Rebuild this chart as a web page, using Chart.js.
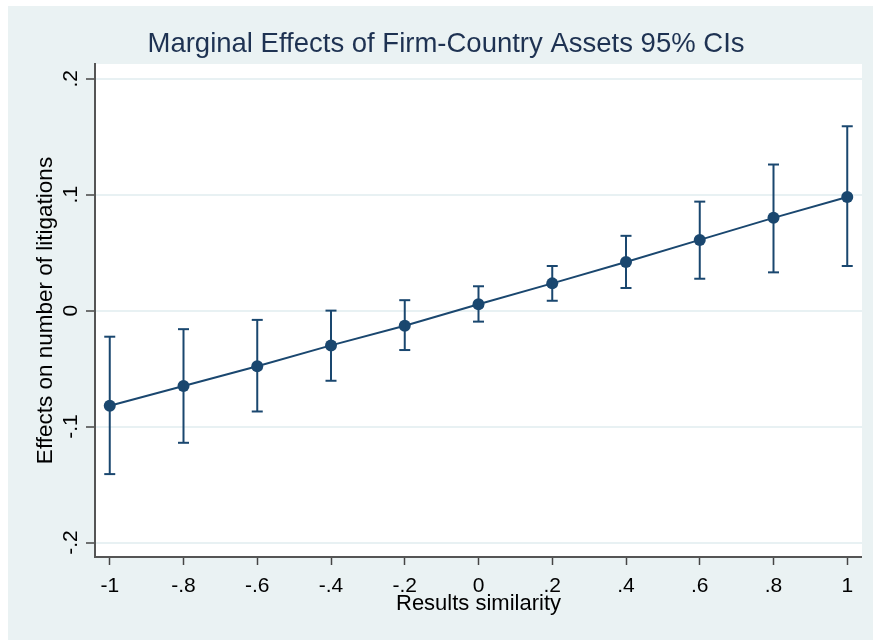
<!DOCTYPE html>
<html>
<head>
<meta charset="utf-8">
<script src="https://cdn.jsdelivr.net/npm/chart.js@4.4.1/dist/chart.umd.min.js"></script>
<style>
  html, body { margin: 0; padding: 0; background: #ffffff; }
  #frame { position: absolute; left: 8px; top: 6px; width: 865px; height: 634px; background: #eaf2f3; }
  #wrap { position: absolute; left: 22px; top: 0; width: 832px; height: 634px; }
</style>
</head>
<body>
<div id="frame"><div id="wrap"><canvas id="chart"></canvas></div></div>
<script>
// Values
const similarity = [-1, -0.8, -0.6, -0.4, -0.2, 0, 0.2, 0.4, 0.6, 0.8, 1];
const effects = [-0.082, -0.065, -0.048, -0.030, -0.013, 0.0055, 0.0235, 0.042, 0.061, 0.080, 0.098];
const ciLower = [-0.141, -0.114, -0.087, -0.0605, -0.034, -0.0095, 0.0085, 0.0195, 0.0275, 0.033, 0.0385];
const ciUpper = [-0.0225, -0.016, -0.008, 0.0, 0.009, 0.021, 0.0385, 0.0645, 0.094, 0.126, 0.159];

const xTickValues = [-1, -0.8, -0.6, -0.4, -0.2, 0, 0.2, 0.4, 0.6, 0.8, 1];
const xTickLabels = ['-1', '-.8', '-.6', '-.4', '-.2', '0', '.2', '.4', '.6', '.8', '1'];
const yTickValues = [-0.2, -0.1, 0, 0.1, 0.2];
const yTickLabels = ['-.2', '-.1', '0', '.1', '.2'];

const NAVY = '#1a476f';
const FONT = "'Liberation Sans', Arial, sans-serif";

// error bar segments: low -> high, then a gap
const ciSegments = [];
similarity.forEach((x, i) => {
  ciSegments.push({ x, y: ciLower[i] });
  ciSegments.push({ x, y: ciUpper[i] });
  ciSegments.push({ x, y: null });
});

const points = similarity.map((x, i) => ({ x, y: effects[i] }));

// white plot region
const plotBg = {
  id: 'plotBg',
  beforeDraw(chart) {
    const { ctx, chartArea: a } = chart;
    ctx.save();
    ctx.fillStyle = '#ffffff';
    ctx.fillRect(a.left, a.top, a.right - a.left, a.bottom - a.top);
    ctx.restore();
  }
};

// no extra label padding, the layout is fixed by the sizes below
const noPad = scale => {
  scale.paddingLeft = 0;
  scale.paddingRight = 0;
  scale.paddingTop = 0;
  scale.paddingBottom = 0;
};

new Chart(document.getElementById('chart'), {
  type: 'line',
  data: {
    datasets: [
      {
        label: '95% CI',
        data: ciSegments,
        borderColor: NAVY,
        borderWidth: 2,
        spanGaps: false,
        pointStyle: 'line',
        pointRadius: 5.5,
        pointBorderWidth: 2,
        pointBorderColor: NAVY,
        clip: false
      },
      {
        label: 'Effect',
        data: points,
        borderColor: NAVY,
        borderWidth: 2,
        tension: 0,
        pointRadius: 6,
        pointBackgroundColor: NAVY,
        pointBorderWidth: 0
      }
    ]
  },
  options: {
    responsive: true,
    maintainAspectRatio: false,
    animation: false,
    layout: { padding: 0, autoPadding: false },
    plugins: {
      legend: { display: false },
      tooltip: { enabled: false },
      title: {
        display: true,
        text: 'Marginal Effects of Firm-Country Assets 95% CIs',
        color: '#1e3252',
        font: { family: FONT, size: 27.5, weight: 'normal', lineHeight: 1 },
        padding: { top: 25, bottom: 5.5 }
      }
    },
    scales: {
      x: {
        type: 'linear',
        min: -1.04,
        max: 1.04,
        afterBuildTicks(scale) { scale.ticks = xTickValues.map(v => ({ value: v })); },
        afterFit(scale) { scale.height = 83; noPad(scale); },
        ticks: {
          callback: (v, i) => xTickLabels[i],
          color: '#000',
          font: { family: FONT, size: 21 },
          padding: 9,
          maxRotation: 0,
          autoSkip: false
        },
        grid: {
          display: true,
          drawOnChartArea: false,
          drawTicks: true,
          tickLength: 8,
          tickColor: '#444',
          tickWidth: 1.5
        },
        border: { display: true, color: '#555', width: 2 },
        title: {
          display: true,
          text: 'Results similarity',
          color: '#000',
          font: { family: FONT, size: 22 },
          padding: { top: 0, bottom: 23 }
        }
      },
      y: {
        type: 'linear',
        min: -0.2125,
        max: 0.2127,
        afterBuildTicks(scale) { scale.ticks = yTickValues.map(v => ({ value: v })); },
        afterFit(scale) { scale.width = 65; noPad(scale); },
        ticks: {
          callback: (v, i) => yTickLabels[i],
          color: '#000',
          font: { family: FONT, size: 21 },
          padding: 3,
          minRotation: 90,
          maxRotation: 90,
          crossAlign: 'center',
          autoSkip: false
        },
        grid: {
          display: true,
          drawOnChartArea: true,
          color: '#e8f1f3',
          lineWidth: 2,
          drawTicks: true,
          tickLength: 9,
          tickColor: '#444',
          tickWidth: 1.5
        },
        border: { display: true, color: '#555', width: 2 },
        title: {
          display: true,
          text: 'Effects on number of litigations',
          color: '#000',
          font: { family: FONT, size: 22.5 },
          padding: { top: 2, bottom: 0 }
        }
      }
    }
  },
  plugins: [plotBg]
});
</script>
</body>
</html>
